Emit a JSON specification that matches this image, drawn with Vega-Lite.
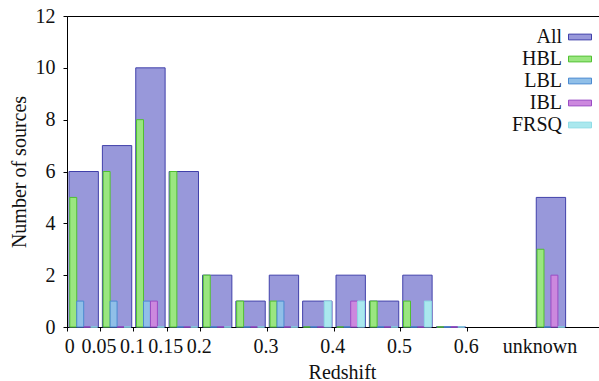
{
  "$schema": "https://vega.github.io/schema/vega-lite/v6.json",
  "width": 534,
  "height": 311,
  "autosize": "none",
  "padding": {"left": 67, "top": 16, "right": 0, "bottom": 54},
  "config": {
    "font": "Liberation Serif",
    "view": {"stroke": "#000", "strokeWidth": 1},
    "axis": {
      "domainColor": "#000", "tickColor": "#000", "labelColor": "#111", "titleColor": "#111",
      "labelFontSize": 20, "titleFontSize": 20, "titleFontWeight": "normal",
      "labelFont": "Liberation Serif", "titleFont": "Liberation Serif",
      "grid": false, "tickSize": 4
    }
  },
  "data": {"values": [
    {"bin": "0", "type": "All", "count": 6},
    {"bin": "0.05", "type": "All", "count": 7},
    {"bin": "0.1", "type": "All", "count": 10},
    {"bin": "0.15", "type": "All", "count": 6},
    {"bin": "0.2", "type": "All", "count": 2},
    {"bin": "0.25", "type": "All", "count": 1},
    {"bin": "0.3", "type": "All", "count": 2},
    {"bin": "0.35", "type": "All", "count": 1},
    {"bin": "0.4", "type": "All", "count": 2},
    {"bin": "0.45", "type": "All", "count": 1},
    {"bin": "0.5", "type": "All", "count": 2},
    {"bin": "0.55", "type": "All", "count": 0},
    {"bin": "unknown", "type": "All", "count": 5},
    {"bin": "0", "type": "HBL", "count": 5},
    {"bin": "0.05", "type": "HBL", "count": 6},
    {"bin": "0.1", "type": "HBL", "count": 8},
    {"bin": "0.15", "type": "HBL", "count": 6},
    {"bin": "0.2", "type": "HBL", "count": 2},
    {"bin": "0.25", "type": "HBL", "count": 1},
    {"bin": "0.3", "type": "HBL", "count": 1},
    {"bin": "0.35", "type": "HBL", "count": 0},
    {"bin": "0.4", "type": "HBL", "count": 0},
    {"bin": "0.45", "type": "HBL", "count": 1},
    {"bin": "0.5", "type": "HBL", "count": 1},
    {"bin": "0.55", "type": "HBL", "count": 0},
    {"bin": "unknown", "type": "HBL", "count": 3},
    {"bin": "0", "type": "LBL", "count": 1},
    {"bin": "0.05", "type": "LBL", "count": 1},
    {"bin": "0.1", "type": "LBL", "count": 1},
    {"bin": "0.15", "type": "LBL", "count": 0},
    {"bin": "0.2", "type": "LBL", "count": 0},
    {"bin": "0.25", "type": "LBL", "count": 0},
    {"bin": "0.3", "type": "LBL", "count": 1},
    {"bin": "0.35", "type": "LBL", "count": 0},
    {"bin": "0.4", "type": "LBL", "count": 0},
    {"bin": "0.45", "type": "LBL", "count": 0},
    {"bin": "0.5", "type": "LBL", "count": 0},
    {"bin": "0.55", "type": "LBL", "count": 0},
    {"bin": "unknown", "type": "LBL", "count": 0},
    {"bin": "0", "type": "IBL", "count": 0},
    {"bin": "0.05", "type": "IBL", "count": 0},
    {"bin": "0.1", "type": "IBL", "count": 1},
    {"bin": "0.15", "type": "IBL", "count": 0},
    {"bin": "0.2", "type": "IBL", "count": 0},
    {"bin": "0.25", "type": "IBL", "count": 0},
    {"bin": "0.3", "type": "IBL", "count": 0},
    {"bin": "0.35", "type": "IBL", "count": 0},
    {"bin": "0.4", "type": "IBL", "count": 1},
    {"bin": "0.45", "type": "IBL", "count": 0},
    {"bin": "0.5", "type": "IBL", "count": 0},
    {"bin": "0.55", "type": "IBL", "count": 0},
    {"bin": "unknown", "type": "IBL", "count": 2},
    {"bin": "0", "type": "FRSQ", "count": 0},
    {"bin": "0.05", "type": "FRSQ", "count": 0},
    {"bin": "0.1", "type": "FRSQ", "count": 0},
    {"bin": "0.15", "type": "FRSQ", "count": 0},
    {"bin": "0.2", "type": "FRSQ", "count": 0},
    {"bin": "0.25", "type": "FRSQ", "count": 0},
    {"bin": "0.3", "type": "FRSQ", "count": 0},
    {"bin": "0.35", "type": "FRSQ", "count": 1},
    {"bin": "0.4", "type": "FRSQ", "count": 1},
    {"bin": "0.45", "type": "FRSQ", "count": 0},
    {"bin": "0.5", "type": "FRSQ", "count": 1},
    {"bin": "0.55", "type": "FRSQ", "count": 0},
    {"bin": "unknown", "type": "FRSQ", "count": 0}
  ]},
  "encoding": {
    "x": {
      "field": "bin", "type": "ordinal",
      "scale": {"domain": ["0","0.05","0.1","0.15","0.2","0.25","0.3","0.35","0.4","0.45","0.5","0.55","0.6","0.65","unknown","0.75"], "paddingInner": 0, "paddingOuter": 0},
      "axis": {
        "values": ["0","0.05","0.1","0.15","0.2","0.3","0.4","0.5","0.6","unknown"],
        "bandPosition": 0, "labelAngle": 0, "labelPadding": 5,
        "labelOffset": {"condition": [
          {"test": "datum.value === 'unknown'", "value": -11},
          {"test": "datum.value === '0'", "value": -14}
        ], "value": -18},
        "tickOpacity": {"condition": {"test": "datum.value === 'unknown'", "value": 0}, "value": 1},
        "title": "Redshift", "titlePadding": 6, "titleX": 275
      }
    },
    "y": {
      "field": "count", "type": "quantitative",
      "scale": {"domain": [0, 12], "nice": false},
      "axis": {"values": [0,2,4,6,8,10,12], "labelPadding": 8, "title": "Number of sources", "titlePadding": 6}
    },
    "fill": {
      "field": "type", "type": "nominal",
      "scale": {"domain": ["All","HBL","LBL","IBL","FRSQ"], "range": ["#9898da","#9ae680","#90bfe8","#cc88de","#aae8ee"]},
      "legend": {
        "title": null, "orient": "none", "legendX": 501, "legendY": 9,
        "labelAlign": "right", "labelOffset": -30, "labelFontSize": 20, "labelFont": "Liberation Serif", "labelColor": "#111", "labelLimit": 200,
        "symbolType": "M-1,-0.25H1V0.25H-1Z", "symbolSize": 529, "symbolStrokeWidth": 1, "symbolOpacity": 1,
        "rowPadding": 0, "padding": 0
      }
    },
    "stroke": {
      "field": "type", "type": "nominal",
      "scale": {"domain": ["All","HBL","LBL","IBL","FRSQ"], "range": ["#4040aa","#50c030","#4a8ad0","#9a4cc4","#8fdce6"]}
    }
  },
  "layer": [
    {
      "transform": [{"filter": "datum.type === 'All'"}],
      "mark": {"type": "bar", "width": {"band": 0.88}, "strokeWidth": 1, "opacity": 1}
    },
    {
      "transform": [{"filter": "datum.type !== 'All'"}],
      "mark": {"type": "bar", "strokeWidth": 1, "opacity": 1},
      "encoding": {
        "xOffset": {"field": "type", "type": "nominal", "scale": {"domain": ["HBL","LBL","IBL","FRSQ"], "paddingInner": 0, "paddingOuter": 0.4}}
      }
    }
  ]
}
